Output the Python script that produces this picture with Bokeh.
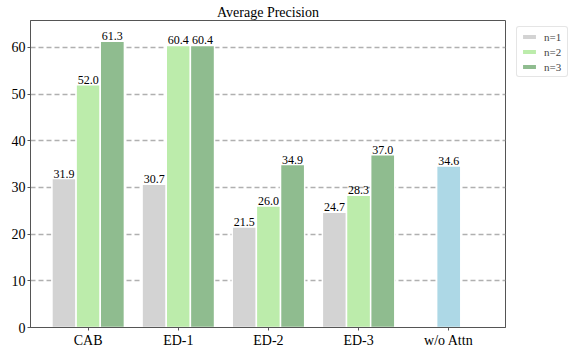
from bokeh.plotting import figure
from bokeh.models import (ColumnDataSource, FixedTicker, Range1d, Legend, LegendItem)
from bokeh.transform import dodge
from bokeh.embed import file_html
from bokeh.resources import INLINE

categories = ["CAB", "ED-1", "ED-2", "ED-3", "w/o Attn"]
n1 = [31.9, 30.7, 21.5, 24.7]
n2 = [52.0, 60.4, 26.0, 28.3]
n3 = [61.3, 60.4, 34.9, 37.0]
wo_attn = [34.6]
series_names = ["n=1", "n=2", "n=3"]
title_text = "Average Precision"

FONT = "Liberation Serif"
BW = 0.268
colors = ["#d3d3d3", "#bcecab", "#8fbc8f"]
wo_color = "#add8e6"

FW, FH = 475, 307

xs = list(range(4))
src = ColumnDataSource(dict(x=xs, n1=n1, n2=n2, n3=n3,
                            l1=[f"{v:.1f}" for v in n1],
                            l2=[f"{v:.1f}" for v in n2],
                            l3=[f"{v:.1f}" for v in n3]))
src_wo = ColumnDataSource(dict(x=[4], v=wo_attn, l=[f"{v:.1f}" for v in wo_attn]))

p = figure(frame_width=FW, frame_height=FH, output_backend="svg", toolbar_location=None,
           x_range=Range1d(-0.64, 4.63), y_range=Range1d(0, 65.75),
           min_border_left=30, min_border_top=20, min_border_bottom=23, min_border_right=61,
           title=title_text)
p.title.align = "center"
p.title.text_font = FONT
p.title.text_font_size = "14px"
p.title.text_font_style = "normal"
p.title.text_color = "black"
p.title.standoff = 2

p.background_fill_color = "white"
p.border_fill_color = "white"
p.outline_line_color = "#555555"
p.outline_line_width = 1

p.xgrid.grid_line_color = None
p.ygrid.grid_line_color = "#b0b0b0"
p.ygrid.grid_line_dash = "5 3"
p.ygrid.grid_line_width = 1.3

renderers = []
for i, (col, lab) in enumerate([("n1", "l1"), ("n2", "l2"), ("n3", "l3")]):
    off = (i - 1) * BW
    r = p.vbar(x=dodge("x", off), top=col, width=BW, source=src,
               fill_color=colors[i], line_color="white", line_width=1.5)
    renderers.append(r)
    p.text(x=dodge("x", off), y=col, text=lab, source=src, text_align="center",
           text_baseline="bottom", y_offset=-1, text_font_size="12px",
           text_font={"value": FONT}, text_color="black")

p.vbar(x="x", top="v", width=BW, source=src_wo, fill_color=wo_color,
       line_color="white", line_width=1.5)
p.text(x="x", y="v", text="l", source=src_wo, text_align="center",
       text_baseline="bottom", y_offset=-1, text_font_size="12px",
       text_font={"value": FONT}, text_color="black")

p.xaxis.ticker = FixedTicker(ticks=list(range(len(categories))))
p.xaxis.major_label_overrides = {i: c for i, c in enumerate(categories)}
p.yaxis.ticker = FixedTicker(ticks=[0, 10, 20, 30, 40, 50, 60])
for ax in (p.xaxis, p.yaxis):
    ax.axis_line_color = "#555555"
    ax.major_tick_line_color = "#555555"
    ax.major_tick_out = 3
    ax.major_tick_in = 0
    ax.minor_tick_line_color = None
    ax.major_label_text_font = FONT
    ax.major_label_text_font_size = "14px"
    ax.major_label_text_color = "black"
    ax.major_label_standoff = 2

legend = Legend(items=[LegendItem(label=series_names[i], renderers=[renderers[i]]) for i in range(3)],
                location=(11, FH - 57), margin=0, padding=3, spacing=2,
                glyph_width=18, glyph_height=7, label_height=13, label_standoff=6,
                label_text_font=FONT, label_text_font_size="11px",
                border_line_color="#cccccc", border_line_width=1, border_radius=3,
                background_fill_color="white")
p.add_layout(legend, "right")

open("out.html", "w").write(file_html(p, INLINE))
